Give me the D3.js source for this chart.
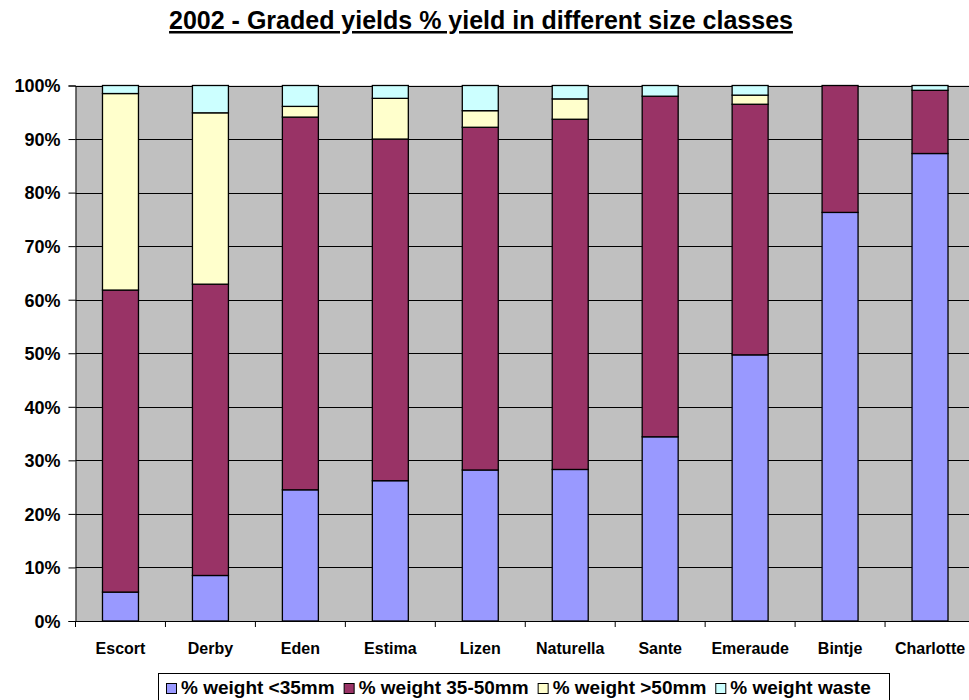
<!DOCTYPE html>
<html lang="en">
<head>
<meta charset="UTF-8">
<title>2002 - Graded yields</title>
<script src="https://d3js.org/d3.v7.min.js"></script>
<style>
  body { margin: 0; background: #fff; overflow: hidden; }
  text { font-family: "Liberation Sans", Arial, sans-serif; font-weight: bold; }
</style>
</head>
<body>
<script>
const varieties = ["Escort", "Derby", "Eden", "Estima", "Lizen", "Naturella", "Sante", "Emeraude", "Bintje", "Charlotte"]
const seriesNames = ["% weight <35mm", "% weight 35-50mm", "% weight >50mm", "% weight waste"]
const under35 = [5.4, 8.5, 24.5, 26.2, 28.2, 28.3, 34.4, 49.7, 76.3, 87.3]
const mid35to50 = [56.4, 54.4, 69.6, 63.8, 64.0, 65.4, 63.6, 46.8, 23.7, 11.8]
const over50 = [36.7, 32.0, 2.0, 7.6, 3.1, 3.8, 0.0, 1.7, 0.0, 0.0]
const waste = [1.5, 5.1, 3.9, 2.4, 4.7, 2.5, 2.0, 1.8, 0.0, 0.9]
const yTicks = [0, 10, 20, 30, 40, 50, 60, 70, 80, 90, 100]
const colors = ["#9999ff", "#993366", "#ffffcc", "#ccffff"]

const width = 969, height = 700
const margin = { top: 85.5, right: -6, bottom: 79, left: 75.5 }

const rows = varieties.map((v, i) => ({
  name: v,
  s0: under35[i], s1: mid35to50[i], s2: over50[i], s3: waste[i]
}))
const keys = ["s0", "s1", "s2", "s3"]
const stack = d3.stack().keys(keys).offset(d3.stackOffsetExpand)
const stacked = stack(rows)

const svg = d3.select("body").append("svg")
  .attr("width", width).attr("height", height)

const x = d3.scaleBand()
  .domain(varieties)
  .range([margin.left, width - margin.right])
  .paddingInner(0.6).paddingOuter(0.3)
const y = d3.scaleLinear().domain([0, 1]).range([height - margin.bottom, margin.top])

// title
svg.append("text")
  .attr("x", 481).attr("y", 29)
  .attr("text-anchor", "middle")
  .style("font-size", "25px")
  .style("text-decoration", "underline")
  .text("2002 - Graded yields % yield in different size classes")

// plot background
svg.append("rect")
  .attr("x", margin.left).attr("y", margin.top)
  .attr("width", width - margin.right - margin.left)
  .attr("height", y(0) - y(1))
  .attr("fill", "#c0c0c0")

// gridlines
svg.append("g").selectAll("line")
  .data(yTicks.slice(1))
  .join("line")
  .attr("x1", margin.left).attr("x2", width - margin.right)
  .attr("y1", d => Math.round(y(d / 100)) + 0.5)
  .attr("y2", d => Math.round(y(d / 100)) + 0.5)
  .attr("stroke", "#000").attr("stroke-width", 1)

// bars
svg.append("g").selectAll("g")
  .data(stacked)
  .join("g")
  .attr("fill", (d, i) => colors[i])
  .selectAll("rect")
  .data(d => d)
  .join("rect")
  .attr("x", d => x(d.data.name))
  .attr("y", d => y(d[1]))
  .attr("width", x.bandwidth())
  .attr("height", d => y(d[0]) - y(d[1]))
  .attr("stroke", "#000").attr("stroke-width", 1.3)
  .attr("display", d => (d[1] - d[0]) > 0 ? null : "none")

// y axis
const yAxis = svg.append("g")
  .attr("transform", `translate(${margin.left},0)`)
  .call(d3.axisLeft(y).tickValues(yTicks.map(t => t / 100))
    .tickFormat(d3.format(".0%")).tickSize(7).tickPadding(8))
yAxis.select(".domain").attr("stroke", "#000")
yAxis.selectAll("text").style("font-size", "18px").attr("fill", "#000").attr("dy", "0.35em")

// x axis with ticks at category boundaries
const step = x.step()
const bottom = y(0)
const xg = svg.append("g")
xg.append("line")
  .attr("x1", margin.left).attr("x2", width - margin.right)
  .attr("y1", bottom + 0.5).attr("y2", bottom + 0.5)
  .attr("stroke", "#000")
xg.selectAll("line.tick")
  .data(d3.range(varieties.length + 1))
  .join("line").attr("class", "tick")
  .attr("x1", i => margin.left + i * step).attr("x2", i => margin.left + i * step)
  .attr("y1", bottom).attr("y2", bottom + 6)
  .attr("stroke", "#000")
xg.selectAll("text")
  .data(varieties)
  .join("text")
  .attr("x", d => x(d) + x.bandwidth() / 2)
  .attr("y", 654)
  .attr("text-anchor", "middle")
  .style("font-size", "16px")
  .text(d => d)

// legend
const legend = svg.append("g")
legend.append("rect")
  .attr("x", 158.5).attr("y", 673.5).attr("width", 731).attr("height", 30)
  .attr("fill", "#fff").attr("stroke", "#000")
let lx = 166
seriesNames.forEach((name, i) => {
  legend.append("rect")
    .attr("x", lx + 0.5).attr("y", 683.5).attr("width", 10).attr("height", 10)
    .attr("fill", colors[i]).attr("stroke", "#000")
  const t = legend.append("text")
    .attr("x", lx + 15).attr("y", 694)
    .style("font-size", "19px")
    .text(name)
  lx += 15 + t.node().getComputedTextLength() + 9
})
</script>
</body>
</html>
